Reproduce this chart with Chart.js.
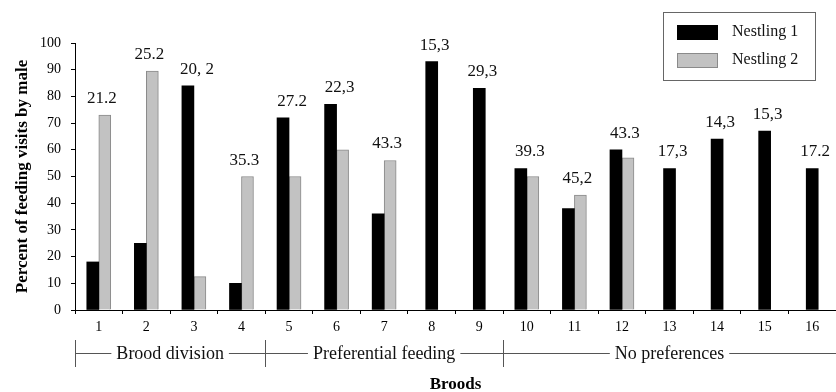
<!DOCTYPE html>
<html>
<head>
<meta charset="utf-8">
<script src="https://cdn.jsdelivr.net/npm/chart.js@4.4.1/dist/chart.umd.min.js"></script>
<style>
html,body{margin:0;padding:0;background:#fff;}
#wrap{width:836px;height:392px;position:relative;}
</style>
</head>
<body>
<div id="wrap"><canvas id="c"></canvas></div>
<script>
// ---- data ----
const broods = ['1','2','3','4','5','6','7','8','9','10','11','12','13','14','15','16'];
const nestling1 = [18, 25, 84, 10, 72, 77, 36, 93, 83, 53, 38, 60, 53, 64, 67, 53];
const nestling2 = [73, 89.5, 12.5, 50, 50, 60, 56, null, null, 50, 43, 57, null, null, null, null];
const visitLabels = ['21.2','25.2','20, 2','35.3','27.2','22,3','43.3','15,3','29,3','39.3','45,2','43.3','17,3','14,3','15,3','17.2'];
const groupNames = ['Brood division','Preferential feeding','No preferences'];
const groupLastIndex = [3, 8, 15];
const seriesNames = ['Nestling 1','Nestling 2'];

const SERIF = '"Liberation Serif", "Times New Roman", serif';
const GRAY_FILL = '#c2c2c2';
const GRAY_EDGE = '#8a8a8a';

const valueLabelPlugin = {
  id: 'valueLabels',
  afterDatasetsDraw(chart) {
    const ctx = chart.ctx;
    const xs = chart.scales.x;
    ctx.save();
    ctx.font = '17px ' + SERIF;
    ctx.fillStyle = '#111';
    ctx.textAlign = 'center';
    ctx.textBaseline = 'alphabetic';
    broods.forEach((b, i) => {
      let top = Infinity;
      chart.data.datasets.forEach((ds, d) => {
        const el = chart.getDatasetMeta(d).data[i];
        if (ds.data[i] !== null && el) top = Math.min(top, el.y);
      });
      ctx.fillText(visitLabels[i], xs.getPixelForValue(i) + 3, top - 12);
    });
    ctx.restore();
  }
};

const groupPlugin = {
  id: 'groups',
  afterDraw(chart) {
    const ctx = chart.ctx;
    const xs = chart.scales.x;
    const area = chart.chartArea;
    const half = (xs.getPixelForValue(1) - xs.getPixelForValue(0)) / 2;
    const y = 353;
    ctx.save();
    ctx.strokeStyle = '#555';
    ctx.lineWidth = 1;
    ctx.font = '18px ' + SERIF;
    ctx.fillStyle = '#111';
    ctx.textAlign = 'center';
    ctx.textBaseline = 'middle';
    let start = area.left;
    groupNames.forEach((name, g) => {
      const last = groupLastIndex[g];
      const end = (g === groupNames.length - 1) ? chart.width : xs.getPixelForValue(last) + half;
      const cx = (start + end) / 2;
      const w = ctx.measureText(name).width;
      ctx.beginPath();
      ctx.moveTo(Math.round(start) + 0.5, 340);
      ctx.lineTo(Math.round(start) + 0.5, 367);
      ctx.moveTo(start, y + 0.5);
      ctx.lineTo(cx - w / 2 - 5, y + 0.5);
      ctx.moveTo(cx + w / 2 + 5, y + 0.5);
      ctx.lineTo(end, y + 0.5);
      ctx.stroke();
      ctx.fillText(name, cx, y + 1);
      start = end;
    });
    ctx.restore();
  }
};

const legendPlugin = {
  id: 'boxLegend',
  afterDraw(chart) {
    const ctx = chart.ctx;
    const bx = chart.width - 173, by = 12;
    ctx.save();
    ctx.strokeStyle = '#666';
    ctx.lineWidth = 1;
    ctx.strokeRect(bx + 0.5, by + 0.5, 152, 68);
    ctx.font = '16px ' + SERIF;
    ctx.fillStyle = '#111';
    ctx.textBaseline = 'middle';
    chart.data.datasets.forEach((ds, d) => {
      const ry = by + 13 + d * 28;
      ctx.fillStyle = ds.backgroundColor;
      ctx.fillRect(bx + 14, ry, 41, 15);
      if (ds.borderWidth) {
        ctx.strokeStyle = ds.borderColor;
        ctx.strokeRect(bx + 14.5, ry + 0.5, 40, 14);
      }
      ctx.fillStyle = '#111';
      ctx.fillText(ds.label, bx + 69, ry + 7);
    });
    ctx.restore();
  }
};

new Chart(document.getElementById('c'), {
  type: 'bar',
  data: {
    labels: broods,
    datasets: [
      { label: seriesNames[0], data: nestling1, backgroundColor: '#000', borderWidth: 0,
        barThickness: 12, skipNull: true },
      { label: seriesNames[1], data: nestling2, backgroundColor: GRAY_FILL, borderColor: GRAY_EDGE,
        borderWidth: 1, barThickness: 12, skipNull: true }
    ]
  },
  options: {
    responsive: true,
    maintainAspectRatio: false,
    animation: false,
    layout: { padding: { top: 43, right: 0, bottom: 0, left: 0 } },
    plugins: { legend: { display: false }, tooltip: { enabled: false } },
    scales: {
      x: {
        offset: true,
        grid: { display: true, drawOnChartArea: false, offset: true, tickLength: 4, color: '#000' },
        border: { color: '#000' },
        ticks: { font: { family: SERIF, size: 14 }, color: '#000', padding: 5, maxRotation: 0, autoSkip: false },
        title: { display: true, text: 'Broods', color: '#000',
                 font: { family: SERIF, size: 17, weight: 'bold' }, padding: { top: 0, bottom: -3 } },
        afterFit(s) { s.height = 82; }
      },
      y: {
        min: 0, max: 100,
        grid: { display: true, drawOnChartArea: false, tickLength: 4, color: '#000' },
        border: { color: '#000' },
        ticks: { stepSize: 10, font: { family: SERIF, size: 14 }, color: '#000', padding: 10 },
        title: { display: true, text: 'Percent of feeding visits by male', color: '#000',
                 font: { family: SERIF, size: 17, weight: 'bold' }, padding: { top: 12, bottom: 0 } },
        afterFit(s) { s.width = 75; }
      }
    }
  },
  plugins: [valueLabelPlugin, groupPlugin, legendPlugin]
});
</script>
</body>
</html>
